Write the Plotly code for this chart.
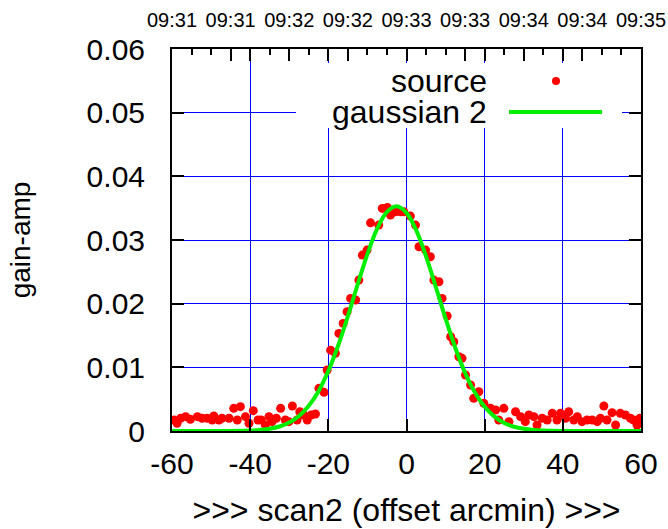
import plotly.graph_objects as go

# ---- data ----
src_x = [-59.5, -58.7, -57.8, -56.5, -55.3, -53.5, -52.3, -51.0, -49.7, -49.3,
         -48.0, -47.2, -45.4, -44.2, -43.3, -42.5, -41.2, -40.3, -39.2, -38.0,
         -37.2, -36.1, -35.2, -34.4, -33.3, -32.2, -31.0, -30.1, -29.2, -28.0,
         -27.3, -26.3, -25.4, -24.4, -23.3, -22.4, -21.1, -20.3, -19.4, -18.2,
         -17.3, -16.2, -15.2, -14.3, -13.0, -12.2, -11.3, -10.1, -9.2, -7.1,
         -6.2, -4.9, -4.1, -2.8, -1.5, -0.7, 1.0, 2.3, 3.2, 4.9,
         6.1, 7.0, 8.3, 9.1, 10.4, 11.3, 12.1, 13.4, 14.2, 15.1,
         16.4, 17.2, 18.5, 19.8, 21.5, 22.8, 23.6, 24.9, 26.2, 27.9,
         29.2, 30.4, 31.3, 32.6, 33.4, 34.7, 36.0, 37.3, 38.5, 39.4,
         40.7, 41.5, 42.8, 43.7, 44.9, 46.2, 47.5, 48.8, 49.6, 50.5,
         51.3, 52.6, 53.5, 54.7, 56.0, 57.3, 58.1, 59.0, 59.7]
src_y = [0.00173, 0.00121, 0.00199, 0.00225, 0.00183, 0.00225, 0.00200, 0.00200, 0.00173, 0.00236,
         0.00173, 0.00200, 0.00200, 0.00356, 0.00173, 0.00382, 0.00225, 0.00121, 0.00320, 0.00173,
         0.00173, 0.00094, 0.00225, 0.00147, 0.00200, 0.00356, 0.00173, 0.00147, 0.00393, 0.00173,
         0.00303, 0.00251, 0.00173, 0.00251, 0.00267, 0.00670, 0.00607, 0.00958, 0.01270, 0.01220,
         0.01533, 0.01690, 0.01873, 0.02083, 0.02057, 0.02370, 0.02763, 0.02842, 0.03270, 0.03234,
         0.03496, 0.03512, 0.03391, 0.03443, 0.03443, 0.03443, 0.03376, 0.03234, 0.02894, 0.02842,
         0.02737, 0.02370, 0.02344, 0.02083, 0.01806, 0.01481, 0.01402, 0.01167, 0.01141, 0.00879,
         0.00722, 0.00513, 0.00617, 0.00435, 0.00356, 0.00330, 0.00173, 0.00356, 0.00147, 0.00303,
         0.00225, 0.00147, 0.00251, 0.00225, 0.00094, 0.00200, 0.00173, 0.00277, 0.00173, 0.00277,
         0.00200, 0.00303, 0.00173, 0.00225, 0.00147, 0.00173, 0.00173, 0.00147, 0.00200, 0.00393,
         0.00173, 0.00288, 0.00094, 0.00277, 0.00251, 0.00200, 0.00173, 0.00094, 0.00200]

fit_x = [-60, -50, -40, -37.5, -35, -32.5, -30, -27.5, -25, -22.5, -20, -17.5, -15,
         -12.5, -10, -7.5, -5, -2.5, 0, 2.5, 5, 7.5, 10, 12.5, 15, 17.5, 20,
         22.5, 25, 27.5, 30, 32.5, 35, 40, 50, 60]
fit_y = [0.0, 0.0, 0.00008, 0.00017, 0.00036, 0.00071, 0.00133, 0.00235, 0.00395,
         0.00626, 0.00942, 0.01339, 0.01803, 0.02301, 0.02779, 0.03178, 0.03442,
         0.03530, 0.03427, 0.03151, 0.02744, 0.02262, 0.01765, 0.01304, 0.00912,
         0.00605, 0.00380, 0.00226, 0.00127, 0.00067, 0.00034, 0.00016, 0.00007,
         0.00001, 0.0, 0.0]

x_vals = [-60, -40, -20, 0, 20, 40, 60]
x_text = ["-60", "-40", "-20", "0", "20", "40", "60"]
y_vals = [0, 0.01, 0.02, 0.03, 0.04, 0.05, 0.06]
y_text = ["0", "0.01", "0.02", "0.03", "0.04", "0.05", "0.06"]
top_vals = [-60, -45, -30, -15, 0, 15, 30, 45, 60]
top_text = ["09:31", "09:31", "09:32", "09:32", "09:33", "09:33", "09:34", "09:34", "09:35"]

FONT = "Liberation Sans, Arial, sans-serif"
TICK = 30
BIG = 32

fig = go.Figure()
fig.add_trace(go.Scatter(x=src_x, y=src_y, mode="markers", name="source",
                         marker=dict(color="#ff0000", size=9, line=dict(width=0))))
fig.add_trace(go.Scatter(x=fit_x, y=fit_y, mode="lines", name="gaussian 2",
                         line=dict(color="#00ee00", width=4, shape="spline")))
# invisible trace to activate the top (time) axis
fig.add_trace(go.Scatter(x=[-60, 60], y=[0, 0], xaxis="x2", mode="markers",
                         marker=dict(opacity=0), showlegend=False, hoverinfo="skip"))

fig.update_layout(
    width=668, height=529,
    margin=dict(l=172, r=27, t=49, b=98),
    paper_bgcolor="white", plot_bgcolor="white",
    showlegend=False,
    font=dict(family=FONT, color="black", size=TICK),
    xaxis=dict(range=[-60, 60], tickvals=x_vals, ticktext=x_text, automargin=False,
               ticks="inside", ticklen=12, tickwidth=2, tickcolor="black",
               ticklabelstandoff=5,
               showline=True, linecolor="black", linewidth=2, mirror="ticks",
               showgrid=True, gridcolor="#0000ff", gridwidth=1, zeroline=False,
               tickfont=dict(size=TICK),
               title=dict(text=">>> scan2 (offset arcmin) >>>", font=dict(size=BIG), standoff=20)),
    xaxis2=dict(range=[-60, 60], overlaying="x", side="top", anchor="y", automargin=False,
                tickvals=top_vals, ticktext=top_text,
                ticks="inside", ticklen=12, tickwidth=2, tickcolor="black",
                ticklabelstandoff=17,
                minor=dict(dtick=5, tick0=-60, ticks="inside", ticklen=6, tickwidth=2,
                           tickcolor="black", showgrid=False),
                showgrid=False, zeroline=False, showline=False,
                tickfont=dict(size=20)),
    yaxis=dict(range=[0, 0.06], tickvals=y_vals, ticktext=y_text, automargin=False,
               ticks="inside", ticklen=12, tickwidth=2, tickcolor="black",
               ticklabelstandoff=19,
               showline=True, linecolor="black", linewidth=2, mirror="ticks",
               showgrid=True, gridcolor="#0000ff", gridwidth=1, zeroline=False,
               tickfont=dict(size=TICK),
               title=dict(text="gain-amp", font=dict(size=28), standoff=48)),
)

# legend drawn gnuplot style: text on the left, sample on the right
def px(x):
    return (x - 172) / 469

def py(y):
    return (431 - y) / 382

fig.add_shape(type="rect", xref="paper", yref="paper",
              x0=px(296), x1=px(622), y0=py(128), y1=py(63),
              fillcolor="white", line=dict(width=0), layer="above")
fig.add_shape(type="line", xref="paper", yref="paper",
              x0=px(509), x1=px(602), y0=py(112), y1=py(112),
              line=dict(color="#00ee00", width=4), layer="above")
fig.add_shape(type="circle", xref="paper", yref="paper",
              x0=px(552), x1=px(560), y0=py(85), y1=py(77),
              fillcolor="#ff0000", line=dict(width=0), layer="above")
fig.add_annotation(text="source", xref="paper", yref="paper", x=px(489), y=py(81),
                   xanchor="right", yanchor="middle", showarrow=False, font=dict(size=BIG))
fig.add_annotation(text="gaussian 2", xref="paper", yref="paper", x=px(489), y=py(112),
                   xanchor="right", yanchor="middle", showarrow=False, font=dict(size=BIG))

# the page body has a default 8px margin; drop it so the figure sits at 0,0
fig.write_html("out.html", config={"displayModeBar": False},
               post_script="document.body.style.margin='0';")
